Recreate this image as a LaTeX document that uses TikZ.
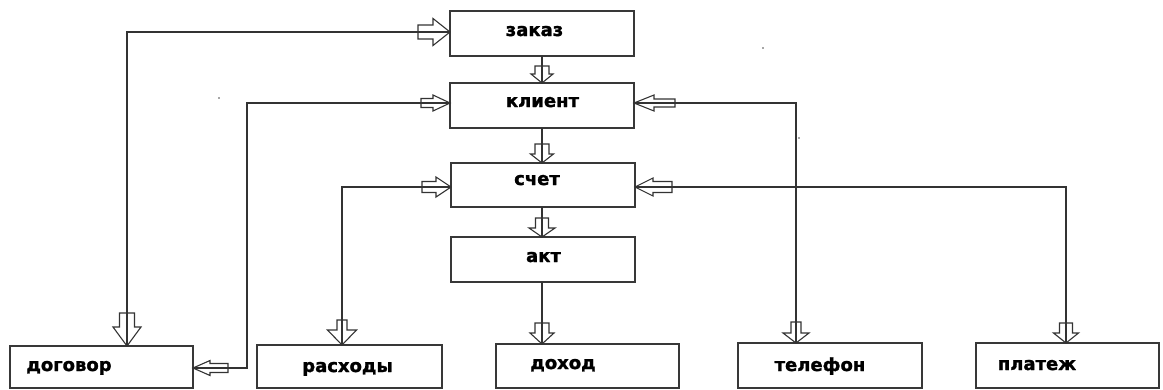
\documentclass[tikz,border=0pt]{standalone}
\usepackage{fontspec}
\setmainfont{DejaVu Sans}[BoldFeatures={FakeBold=1.5}]
\begin{document}
\begin{tikzpicture}[x=1pt,y=-1pt,
  box/.style={draw=black!78,line width=1.5pt,minimum width=#1,minimum height=45pt,inner sep=0pt,outer sep=0pt},
  box/.default=184pt,
  lbl/.style={font=\fontsize{18}{20}\selectfont\bfseries,text=black,inner sep=0pt,anchor=base},
  conn/.style={draw=black!80,line width=1.2pt},
  arr/.style={draw=black!80,line width=1.1pt,fill=none,line join=miter},
  pics/harrow/.style n args={4}{code={\draw[arr] (-#1,-#3/2) -- (-#2,-#3/2) -- (-#2,-#4/2) -- (0,0) -- (-#2,#4/2) -- (-#2,#3/2) -- (-#1,#3/2) -- cycle;}}]
\useasboundingbox (0,0) rectangle (1163,389);
% boxes
\node[box] (zak) at (542,33.5) {};
\node[box] (kli) at (542,105.5) {};
\node[box,minimum height=44pt] (sch) at (543,185) {};
\node[box] (akt) at (543,259.5) {};
\node[box=183pt,minimum height=42pt] (dog) at (101.5,367) {};
\node[box=185pt,minimum height=43pt] (ras) at (349.5,366.5) {};
\node[box=183pt,minimum height=44pt] (doh) at (587.5,366) {};
\node[box=184pt] (tel) at (830,365.5) {};
\node[box=183pt] (pla) at (1067.5,365.5) {};
% labels
\node[lbl] (zakt) at (534.5,36) {заказ};
\node[lbl] (klit) at (542.5,107) {клиент};
\node[lbl] (scht) at (537,185) {счет};
\node[lbl] (aktt) at (543.5,262) {акт};
\node[lbl] (dogt) at (69,371) {договор};
\node[lbl] (rast) at (347.5,372) {расходы};
\node[lbl] (doht) at (563,369) {доход};
\node[lbl] (telt) at (820,371) {телефон};
\node[lbl] (plat) at (1037,370) {платеж};
% bend points
\coordinate (c1) at (127,32);
\coordinate (c2a) at (247,103);
\coordinate (c2b) at (247,368);
\coordinate (c6) at (342,187);
\coordinate (c4) at (796,103);
\coordinate (c7) at (1066,187);
% connectors
\draw[conn] (zak.west |- c1) -- (c1) -- (c1 |- dog.north);
\draw[conn] (kli.west |- c2a) -- (c2a) -- (c2b) -- (dog.east |- c2b);
\draw[conn] (sch.west |- c6) -- (c6) -- (c6 |- ras.north);
\draw[conn] (kli.east |- c4) -- (c4) -- (c4 |- tel.north);
\draw[conn] (sch.east |- c7) -- (c7) -- (c7 |- pla.north);
\draw[conn] (zak.south) -- (kli.north);
\draw[conn] (kli.south) -- (kli.south |- sch.north);
\draw[conn] (kli.south |- sch.south) -- (kli.south |- akt.north);
\draw[conn] (kli.south |- akt.south) -- (kli.south |- doh.north);
% hollow arrows
\pic at (zak.west |- c1) {harrow={32}{17}{14}{27}};
\pic[rotate=-90] at (c1 |- dog.north) {harrow={33}{19}{15}{28}};
\pic at (kli.west |- c2a) {harrow={29}{17}{9}{16}};
\pic[rotate=180] at (dog.east |- c2b) {harrow={35}{17}{9}{15}};
\pic at (sch.west |- c6) {harrow={29}{15}{11}{20}};
\pic[rotate=-90] at (c6 |- ras.north) {harrow={25}{15}{10}{29}};
\pic[rotate=180] at (kli.east |- c4) {harrow={41}{20}{8}{16}};
\pic[rotate=-90] at (c4 |- tel.north) {harrow={21}{10}{10}{26}};
\pic[rotate=180] at (sch.east |- c7) {harrow={37}{18}{11}{18}};
\pic[rotate=-90] at (c7 |- pla.north) {harrow={20}{10}{13}{25}};
\pic[rotate=-90] at (kli.north) {harrow={17}{9}{14}{22}};
\pic[rotate=-90] at (kli.south |- sch.north) {harrow={19}{9}{14}{23}};
\pic[rotate=-90] at (kli.south |- akt.north) {harrow={19}{9}{13}{26}};
\pic[rotate=-90] at (kli.south |- doh.north) {harrow={21}{11}{14}{24}};
% stray dots
\fill[black!70] (219,98) circle (0.9);
\fill[black!70] (763,48) circle (0.9);
\fill[black!70] (799,138) circle (0.9);
\end{tikzpicture}
\end{document}
